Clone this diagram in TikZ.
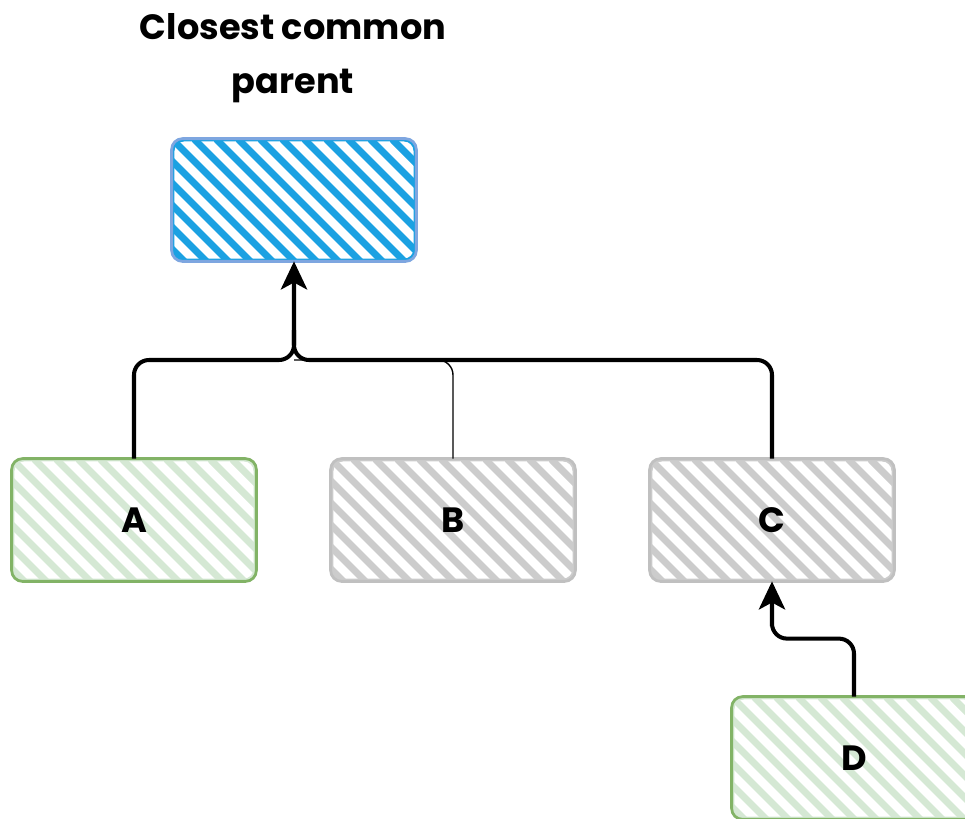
\documentclass[tikz,border=0pt]{standalone}
\usepackage{fontspec}
\setmainfont{Poppins}
\usetikzlibrary{arrows.meta}
\definecolor{blueFill}{HTML}{1BA1E2}
\definecolor{blueLine}{HTML}{7EA6E0}
\definecolor{greenFill}{HTML}{D5E8D4}
\definecolor{greenLine}{HTML}{82B366}
\definecolor{grayFill}{HTML}{CCCCCC}
\definecolor{grayLine}{HTML}{C0C0C0}
\tikzset{
  hatched/.style={
    path picture={
      \foreach \k in {-2.64,-2.2,...,5.3}
        \draw[line width=#1, line cap=round]
          ([xshift=\k cm]path picture bounding box.north west) -- ++(2.7cm,-2.7cm);
    }},
  card/.style={rounded corners=0.22cm, minimum width=4.84cm, minimum height=2.4cm,
    line width=1.6pt, font=\bfseries\fontsize{20}{22}\selectfont, inner sep=0pt},
  parentcard/.style={card, draw=blueLine, color=blueFill, hatched=4pt, text=black},
  leafcard/.style={card, draw=greenLine, color=greenFill, hatched=4pt, text=black},
  othercard/.style={card, draw=grayLine, color=grayFill, hatched=4pt, text=black},
  link/.style={line width=2.3pt},
  thinlink/.style={line width=0.8pt, rounded corners=0.3cm},
  headtip/.style={-{Stealth[length=16pt,width=15pt,inset=4pt]}},
}
\begin{document}
\begin{tikzpicture}[x=0.02cm,y=-0.02cm]
\useasboundingbox (0,0) rectangle (965,819);
\clip (0,0) rectangle (965,819);

% boxes
\node[parentcard] (P) at (294,200) {};
\node[leafcard]  (A) at (134,520) {A};
\node[othercard] (B) at (453,520) {B};
\node[othercard] (C) at (772,520) {C};
\node[leafcard]  (D) at (854,758) {D};

% re-stroke borders on top of the hatching
\foreach \n/\c in {P/blueLine,A/greenLine,B/grayLine,C/grayLine,D/greenLine}
  \draw[line width=1.6pt, draw=\c, rounded corners=0.22cm] (\n.north west) rectangle (\n.south east);

% title
\node[font=\bfseries\fontsize{20}{27}\selectfont, align=center] (T) at (293,58)
  {Closest common\\[4pt]parent};

% connectors into the closest common parent
\coordinate (J) at (P.south |- 0,360);
\draw[link, headtip] (A.north) {[rounded corners=0.3cm] |- (J) -- ([yshift=0.6cm]J)} -- (P.south);
\draw[link, rounded corners=0.3cm] (C.north) |- (J) -- ([yshift=0.6cm]J);
\draw[thinlink] (B.north) |- (J);

% D up to C
\coordinate (K) at ([yshift=-0.6cm]C.south);
\draw[link, headtip] (D.north) {[rounded corners=0.3cm] -- ++(0,-58) -| (K)} -- (C.south);
\end{tikzpicture}
\end{document}
